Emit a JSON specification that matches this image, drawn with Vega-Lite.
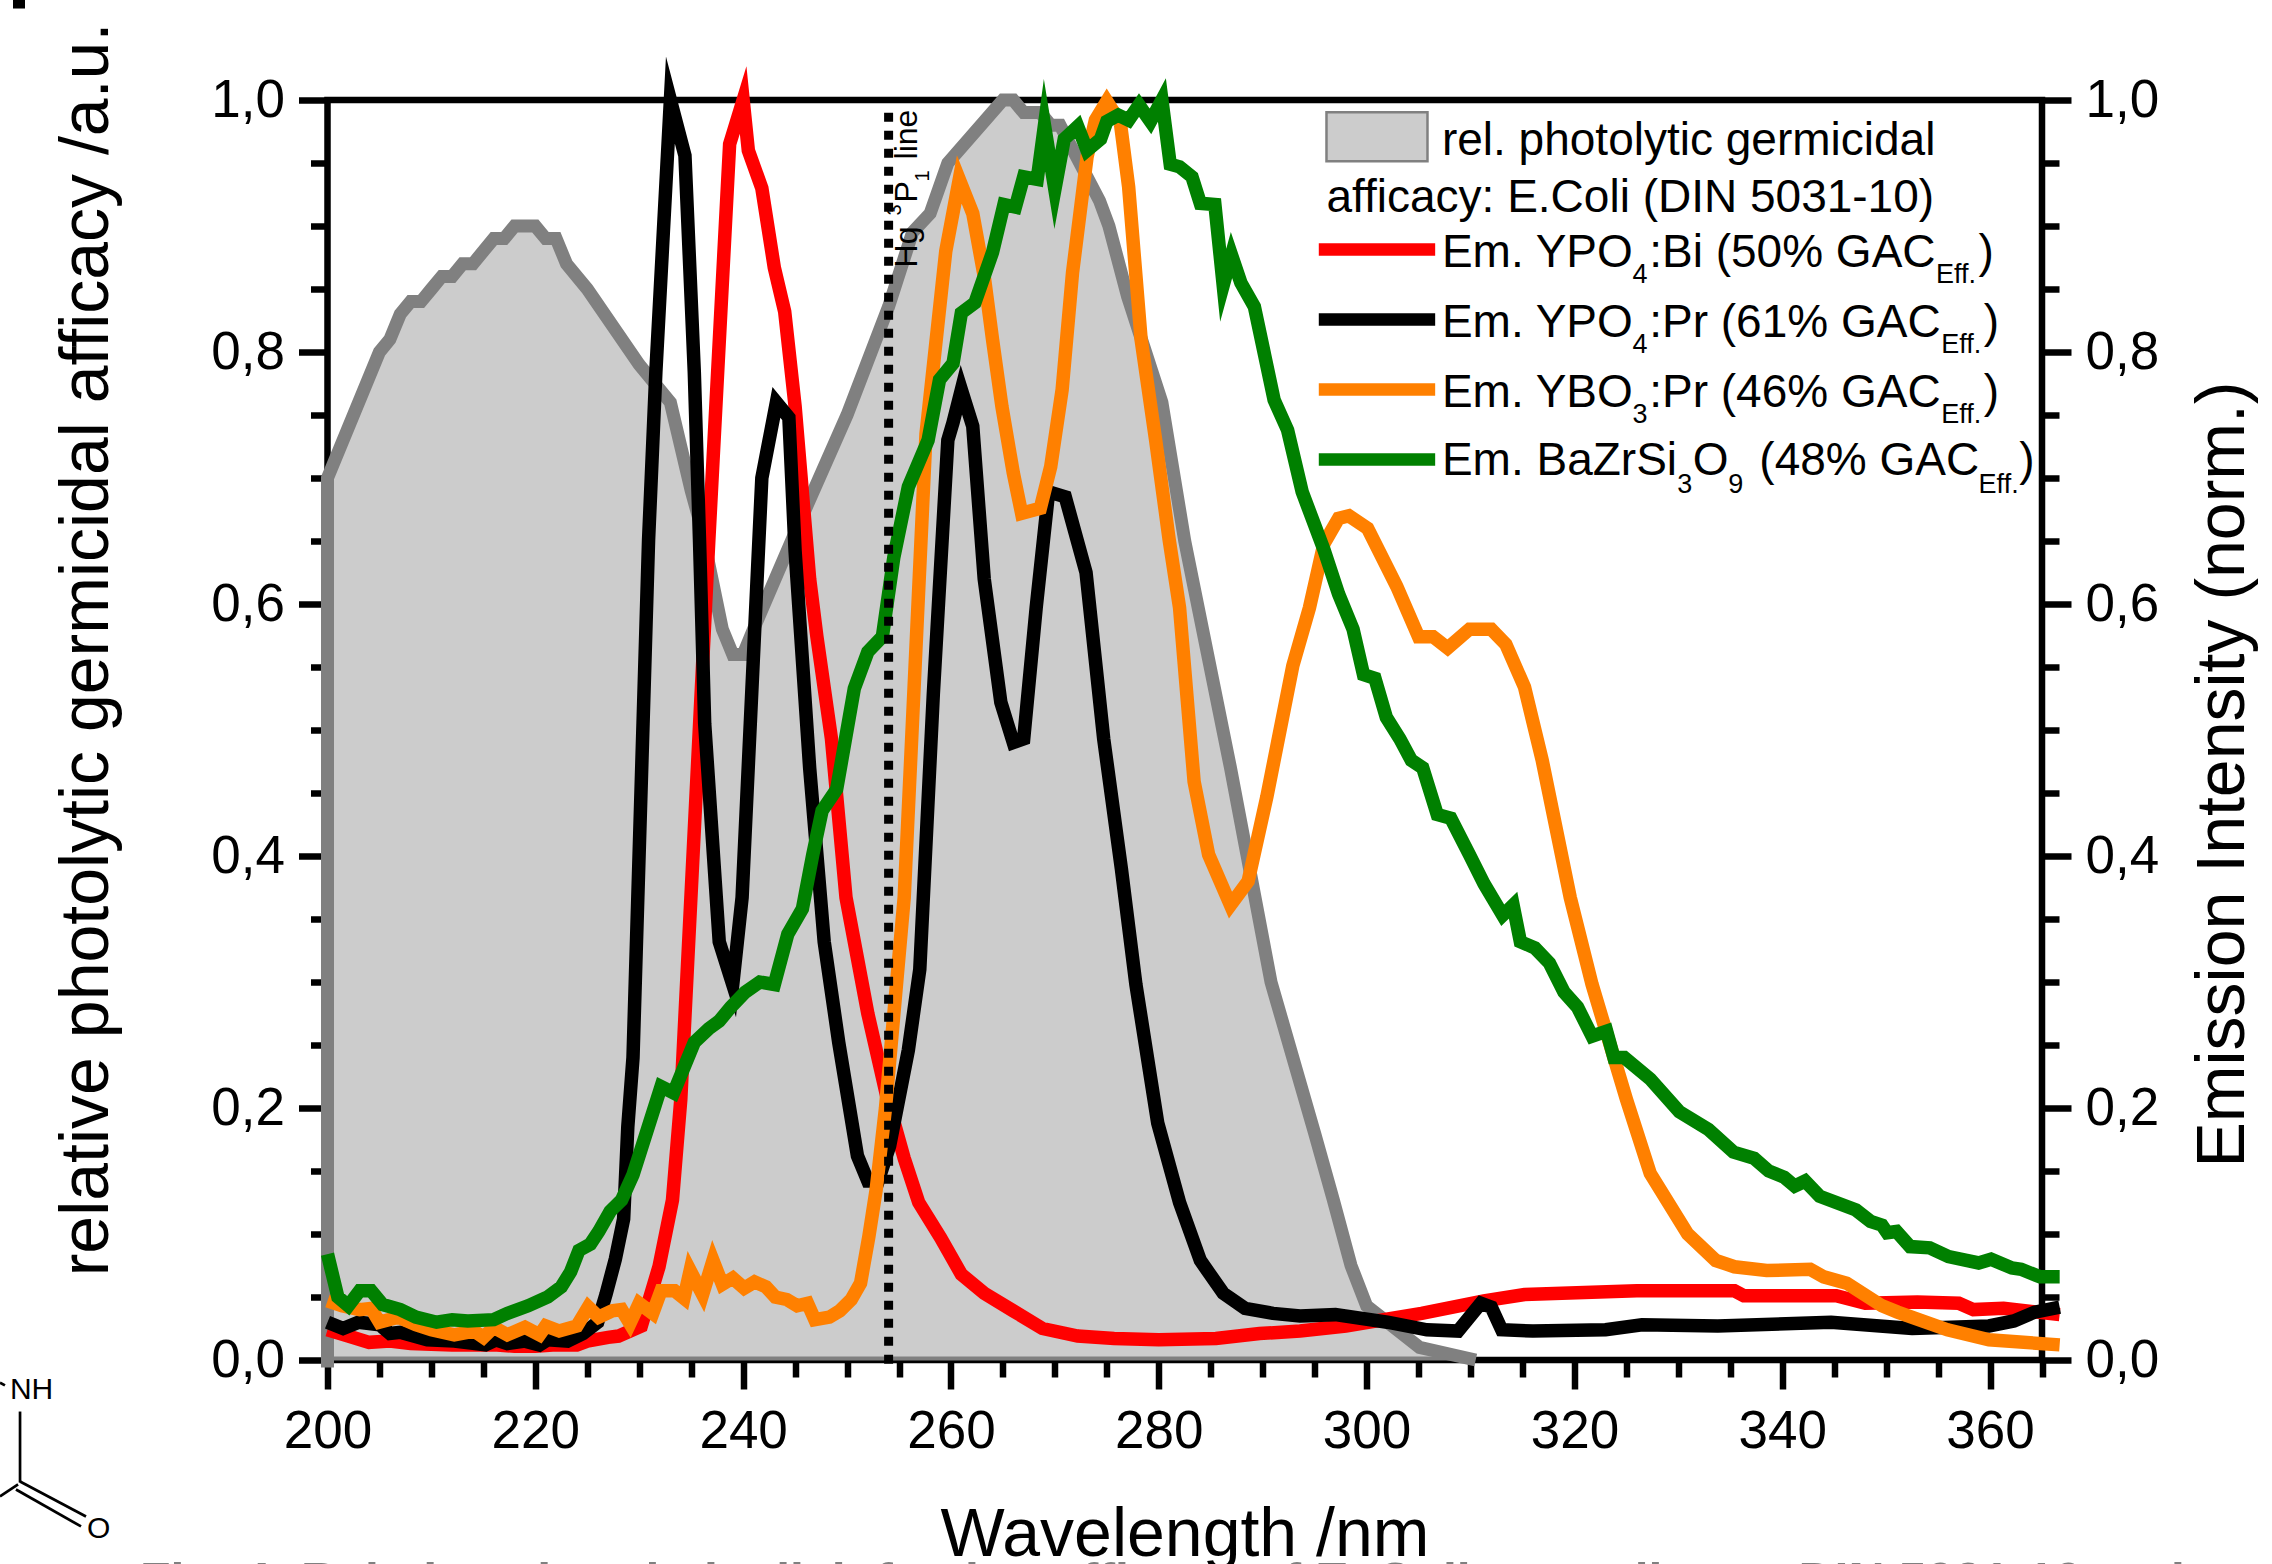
{"$schema":"https://vega.github.io/schema/vega-lite/v6.json","autosize":{"type":"none"},"padding":{"left":327.5,"top":100,"right":230,"bottom":204},"width":1714.5,"height":1260,"background":"white","view":{"stroke":"#000000","strokeWidth":6.5,"fill":null},
"config":{"font":"Liberation Sans","axis":{"grid":false,"domain":false,"labelFont":"Liberation Sans","titleFont":"Liberation Sans","labelColor":"#000","titleColor":"#000","tickColor":"#000","titleFontWeight":"normal","labelFontSize":53,"titleFontSize":68,"tickWidth":6.5}},
"datasets":{
"din":[{"nm":200,"v":-0.006},{"nm":200,"v":0.7},{"nm":205,"v":0.8},{"nm":206,"v":0.81},{"nm":207,"v":0.83},{"nm":208,"v":0.84},{"nm":209,"v":0.84},{"nm":210,"v":0.85},{"nm":211,"v":0.86},{"nm":212,"v":0.86},{"nm":213,"v":0.87},{"nm":214,"v":0.87},{"nm":215,"v":0.88},{"nm":216,"v":0.89},{"nm":217,"v":0.89},{"nm":218,"v":0.9},{"nm":220,"v":0.9},{"nm":221,"v":0.89},{"nm":222,"v":0.89},{"nm":223,"v":0.87},{"nm":225,"v":0.85},{"nm":230,"v":0.79},{"nm":233,"v":0.76},{"nm":235,"v":0.69},{"nm":236,"v":0.66},{"nm":237,"v":0.62},{"nm":238,"v":0.58},{"nm":239,"v":0.56},{"nm":240,"v":0.56},{"nm":241,"v":0.58},{"nm":244.7,"v":0.651},{"nm":250,"v":0.75},{"nm":254,"v":0.836},{"nm":256.3,"v":0.895},{"nm":258,"v":0.91},{"nm":259.7,"v":0.95},{"nm":265,"v":1.0},{"nm":266,"v":1.0},{"nm":267,"v":0.99},{"nm":268.6,"v":0.99},{"nm":269.6,"v":0.98},{"nm":270.5,"v":0.98},{"nm":274.3,"v":0.92},{"nm":275.2,"v":0.9},{"nm":277,"v":0.844},{"nm":280.3,"v":0.76},{"nm":282.5,"v":0.65},{"nm":286.9,"v":0.47},{"nm":290.8,"v":0.3},{"nm":295,"v":0.18},{"nm":296.8,"v":0.127},{"nm":298.5,"v":0.075},{"nm":300,"v":0.043},{"nm":305.1,"v":0.01},{"nm":310.5,"v":0.0}],
"spectra":[
{"nm":200,"s":"Bi","v":0.024},{"nm":202,"s":"Bi","v":0.019},{"nm":204,"s":"Bi","v":0.014},{"nm":206,"s":"Bi","v":0.015},{"nm":208,"s":"Bi","v":0.013},{"nm":212,"s":"Bi","v":0.012},{"nm":216,"s":"Bi","v":0.012},{"nm":218,"s":"Bi","v":0.011},{"nm":220,"s":"Bi","v":0.011},{"nm":222,"s":"Bi","v":0.012},{"nm":224,"s":"Bi","v":0.012},{"nm":225,"s":"Bi","v":0.015},{"nm":227,"s":"Bi","v":0.018},{"nm":228,"s":"Bi","v":0.019},{"nm":230.2,"s":"Bi","v":0.027},{"nm":231.9,"s":"Bi","v":0.074},{"nm":233.2,"s":"Bi","v":0.127},{"nm":234,"s":"Bi","v":0.207},{"nm":236.7,"s":"Bi","v":0.651},{"nm":238.7,"s":"Bi","v":0.965},{"nm":240,"s":"Bi","v":1.0},{"nm":240.5,"s":"Bi","v":0.96},{"nm":241.8,"s":"Bi","v":0.93},{"nm":243,"s":"Bi","v":0.867},{"nm":244,"s":"Bi","v":0.832},{"nm":245,"s":"Bi","v":0.757},{"nm":246.4,"s":"Bi","v":0.62},{"nm":247.1,"s":"Bi","v":0.574},{"nm":248.5,"s":"Bi","v":0.493},{"nm":249.9,"s":"Bi","v":0.367},{"nm":252,"s":"Bi","v":0.275},{"nm":253.8,"s":"Bi","v":0.21},{"nm":255.5,"s":"Bi","v":0.16},{"nm":256.9,"s":"Bi","v":0.125},{"nm":259,"s":"Bi","v":0.097},{"nm":261,"s":"Bi","v":0.068},{"nm":263.2,"s":"Bi","v":0.053},{"nm":266,"s":"Bi","v":0.039},{"nm":268.8,"s":"Bi","v":0.025},{"nm":272.2,"s":"Bi","v":0.019},{"nm":275.7,"s":"Bi","v":0.017},{"nm":280,"s":"Bi","v":0.016},{"nm":285.5,"s":"Bi","v":0.017},{"nm":289.7,"s":"Bi","v":0.021},{"nm":293.6,"s":"Bi","v":0.023},{"nm":298,"s":"Bi","v":0.027},{"nm":305.3,"s":"Bi","v":0.037},{"nm":311.3,"s":"Bi","v":0.047},{"nm":315.2,"s":"Bi","v":0.052},{"nm":326,"s":"Bi","v":0.055},{"nm":335.4,"s":"Bi","v":0.055},{"nm":336.3,"s":"Bi","v":0.051},{"nm":345.2,"s":"Bi","v":0.051},{"nm":348,"s":"Bi","v":0.045},{"nm":353,"s":"Bi","v":0.046},{"nm":357,"s":"Bi","v":0.045},{"nm":358.4,"s":"Bi","v":0.04},{"nm":361.3,"s":"Bi","v":0.041},{"nm":366.7,"s":"Bi","v":0.036},
{"nm":200,"s":"Pr","v":0.03},{"nm":201.5,"s":"Pr","v":0.025},{"nm":203,"s":"Pr","v":0.03},{"nm":205,"s":"Pr","v":0.028},{"nm":206,"s":"Pr","v":0.021},{"nm":207,"s":"Pr","v":0.022},{"nm":209.6,"s":"Pr","v":0.016},{"nm":212.2,"s":"Pr","v":0.015},{"nm":215.2,"s":"Pr","v":0.012},{"nm":216.2,"s":"Pr","v":0.016},{"nm":217.3,"s":"Pr","v":0.013},{"nm":219,"s":"Pr","v":0.015},{"nm":220.4,"s":"Pr","v":0.012},{"nm":221.2,"s":"Pr","v":0.016},{"nm":223.1,"s":"Pr","v":0.015},{"nm":224.6,"s":"Pr","v":0.021},{"nm":226,"s":"Pr","v":0.03},{"nm":226.8,"s":"Pr","v":0.052},{"nm":227.7,"s":"Pr","v":0.08},{"nm":228.5,"s":"Pr","v":0.112},{"nm":228.9,"s":"Pr","v":0.185},{"nm":229.4,"s":"Pr","v":0.24},{"nm":230.9,"s":"Pr","v":0.651},{"nm":231.6,"s":"Pr","v":0.784},{"nm":233,"s":"Pr","v":1.0},{"nm":234.4,"s":"Pr","v":0.956},{"nm":235.3,"s":"Pr","v":0.784},{"nm":235.8,"s":"Pr","v":0.651},{"nm":236.3,"s":"Pr","v":0.505},{"nm":237.7,"s":"Pr","v":0.332},{"nm":239,"s":"Pr","v":0.298},{"nm":239.9,"s":"Pr","v":0.367},{"nm":241.8,"s":"Pr","v":0.7},{"nm":243.2,"s":"Pr","v":0.76},{"nm":244.4,"s":"Pr","v":0.748},{"nm":245,"s":"Pr","v":0.642},{"nm":246.4,"s":"Pr","v":0.47},{"nm":247.8,"s":"Pr","v":0.332},{"nm":249.2,"s":"Pr","v":0.252},{"nm":251,"s":"Pr","v":0.162},{"nm":252,"s":"Pr","v":0.142},{"nm":253,"s":"Pr","v":0.142},{"nm":254.1,"s":"Pr","v":0.17},{"nm":255.9,"s":"Pr","v":0.246},{"nm":257,"s":"Pr","v":0.31},{"nm":258.3,"s":"Pr","v":0.528},{"nm":259.7,"s":"Pr","v":0.73},{"nm":260.2,"s":"Pr","v":0.744},{"nm":261,"s":"Pr","v":0.77},{"nm":262.1,"s":"Pr","v":0.741},{"nm":263.2,"s":"Pr","v":0.62},{"nm":264.8,"s":"Pr","v":0.522},{"nm":266,"s":"Pr","v":0.49},{"nm":267,"s":"Pr","v":0.493},{"nm":268.2,"s":"Pr","v":0.597},{"nm":269.4,"s":"Pr","v":0.689},{"nm":271,"s":"Pr","v":0.685},{"nm":273,"s":"Pr","v":0.625},{"nm":274.7,"s":"Pr","v":0.493},{"nm":276.4,"s":"Pr","v":0.39},{"nm":277.8,"s":"Pr","v":0.298},{"nm":279.9,"s":"Pr","v":0.188},{"nm":282,"s":"Pr","v":0.125},{"nm":284,"s":"Pr","v":0.079},{"nm":286.2,"s":"Pr","v":0.053},{"nm":288.3,"s":"Pr","v":0.041},{"nm":291,"s":"Pr","v":0.037},{"nm":293.6,"s":"Pr","v":0.035},{"nm":297,"s":"Pr","v":0.036},{"nm":302,"s":"Pr","v":0.03},{"nm":305.8,"s":"Pr","v":0.024},{"nm":308.8,"s":"Pr","v":0.023},{"nm":311,"s":"Pr","v":0.045},{"nm":312,"s":"Pr","v":0.042},{"nm":313,"s":"Pr","v":0.024},{"nm":316,"s":"Pr","v":0.023},{"nm":323,"s":"Pr","v":0.024},{"nm":326.5,"s":"Pr","v":0.028},{"nm":333.8,"s":"Pr","v":0.027},{"nm":344.7,"s":"Pr","v":0.03},{"nm":352.5,"s":"Pr","v":0.025},{"nm":359.9,"s":"Pr","v":0.027},{"nm":362.3,"s":"Pr","v":0.031},{"nm":364.3,"s":"Pr","v":0.038},{"nm":366.7,"s":"Pr","v":0.042},
{"nm":200,"s":"YBO","v":0.047},{"nm":201.4,"s":"YBO","v":0.043},{"nm":203.1,"s":"YBO","v":0.04},{"nm":204.2,"s":"YBO","v":0.041},{"nm":205,"s":"YBO","v":0.03},{"nm":206.8,"s":"YBO","v":0.034},{"nm":208.5,"s":"YBO","v":0.028},{"nm":210,"s":"YBO","v":0.024},{"nm":212.2,"s":"YBO","v":0.02},{"nm":214.1,"s":"YBO","v":0.023},{"nm":215,"s":"YBO","v":0.018},{"nm":216,"s":"YBO","v":0.026},{"nm":217.3,"s":"YBO","v":0.02},{"nm":219,"s":"YBO","v":0.026},{"nm":220.4,"s":"YBO","v":0.02},{"nm":221,"s":"YBO","v":0.027},{"nm":222.3,"s":"YBO","v":0.023},{"nm":224,"s":"YBO","v":0.027},{"nm":225.1,"s":"YBO","v":0.042},{"nm":226.1,"s":"YBO","v":0.034},{"nm":227.4,"s":"YBO","v":0.039},{"nm":228.3,"s":"YBO","v":0.04},{"nm":229.1,"s":"YBO","v":0.029},{"nm":230,"s":"YBO","v":0.045},{"nm":231.3,"s":"YBO","v":0.037},{"nm":232.1,"s":"YBO","v":0.055},{"nm":233.4,"s":"YBO","v":0.055},{"nm":234.3,"s":"YBO","v":0.049},{"nm":234.9,"s":"YBO","v":0.071},{"nm":236.1,"s":"YBO","v":0.052},{"nm":237.1,"s":"YBO","v":0.079},{"nm":238,"s":"YBO","v":0.06},{"nm":239,"s":"YBO","v":0.065},{"nm":240.1,"s":"YBO","v":0.057},{"nm":241.1,"s":"YBO","v":0.062},{"nm":242.2,"s":"YBO","v":0.058},{"nm":243.1,"s":"YBO","v":0.05},{"nm":244.2,"s":"YBO","v":0.048},{"nm":245.2,"s":"YBO","v":0.043},{"nm":246.2,"s":"YBO","v":0.045},{"nm":246.9,"s":"YBO","v":0.032},{"nm":248.3,"s":"YBO","v":0.034},{"nm":249.3,"s":"YBO","v":0.039},{"nm":250.4,"s":"YBO","v":0.048},{"nm":251.3,"s":"YBO","v":0.061},{"nm":252.1,"s":"YBO","v":0.098},{"nm":252.8,"s":"YBO","v":0.135},{"nm":253.7,"s":"YBO","v":0.2},{"nm":255.5,"s":"YBO","v":0.367},{"nm":257.6,"s":"YBO","v":0.735},{"nm":259.5,"s":"YBO","v":0.88},{"nm":260.8,"s":"YBO","v":0.937},{"nm":262.1,"s":"YBO","v":0.91},{"nm":263.2,"s":"YBO","v":0.86},{"nm":264,"s":"YBO","v":0.81},{"nm":264.9,"s":"YBO","v":0.757},{"nm":266,"s":"YBO","v":0.704},{"nm":266.8,"s":"YBO","v":0.672},{"nm":268.6,"s":"YBO","v":0.676},{"nm":269.6,"s":"YBO","v":0.709},{"nm":270.7,"s":"YBO","v":0.77},{"nm":271.7,"s":"YBO","v":0.863},{"nm":273.1,"s":"YBO","v":0.955},{"nm":273.9,"s":"YBO","v":0.984},{"nm":275,"s":"YBO","v":0.999},{"nm":276.3,"s":"YBO","v":0.982},{"nm":277.1,"s":"YBO","v":0.931},{"nm":278.3,"s":"YBO","v":0.81},{"nm":279.7,"s":"YBO","v":0.73},{"nm":281,"s":"YBO","v":0.651},{"nm":282,"s":"YBO","v":0.597},{"nm":283.4,"s":"YBO","v":0.459},{"nm":284.8,"s":"YBO","v":0.401},{"nm":286.9,"s":"YBO","v":0.361},{"nm":288.6,"s":"YBO","v":0.38},{"nm":290.4,"s":"YBO","v":0.447},{"nm":292.9,"s":"YBO","v":0.551},{"nm":294.5,"s":"YBO","v":0.597},{"nm":295.9,"s":"YBO","v":0.648},{"nm":297.3,"s":"YBO","v":0.668},{"nm":298.3,"s":"YBO","v":0.67},{"nm":300.1,"s":"YBO","v":0.66},{"nm":302.9,"s":"YBO","v":0.614},{"nm":305,"s":"YBO","v":0.574},{"nm":306.4,"s":"YBO","v":0.574},{"nm":307.8,"s":"YBO","v":0.565},{"nm":309.9,"s":"YBO","v":0.58},{"nm":312,"s":"YBO","v":0.58},{"nm":313.4,"s":"YBO","v":0.568},{"nm":315.2,"s":"YBO","v":0.534},{"nm":316.9,"s":"YBO","v":0.476},{"nm":319.6,"s":"YBO","v":0.367},{"nm":321.7,"s":"YBO","v":0.298},{"nm":325,"s":"YBO","v":0.207},{"nm":327.3,"s":"YBO","v":0.148},{"nm":330.9,"s":"YBO","v":0.1},{"nm":333.6,"s":"YBO","v":0.079},{"nm":335.4,"s":"YBO","v":0.074},{"nm":338.5,"s":"YBO","v":0.071},{"nm":342.7,"s":"YBO","v":0.072},{"nm":344,"s":"YBO","v":0.066},{"nm":346.2,"s":"YBO","v":0.061},{"nm":349.6,"s":"YBO","v":0.043},{"nm":351.1,"s":"YBO","v":0.038},{"nm":355.9,"s":"YBO","v":0.024},{"nm":359.9,"s":"YBO","v":0.016},{"nm":366.7,"s":"YBO","v":0.012},
{"nm":200,"s":"Zr","v":0.084},{"nm":201,"s":"Zr","v":0.05},{"nm":202,"s":"Zr","v":0.043},{"nm":203.1,"s":"Zr","v":0.055},{"nm":204.2,"s":"Zr","v":0.055},{"nm":205.3,"s":"Zr","v":0.044},{"nm":207,"s":"Zr","v":0.04},{"nm":208.5,"s":"Zr","v":0.034},{"nm":210.5,"s":"Zr","v":0.03},{"nm":212,"s":"Zr","v":0.032},{"nm":213.5,"s":"Zr","v":0.031},{"nm":216,"s":"Zr","v":0.032},{"nm":217.3,"s":"Zr","v":0.037},{"nm":219.3,"s":"Zr","v":0.043},{"nm":221.2,"s":"Zr","v":0.05},{"nm":222.5,"s":"Zr","v":0.058},{"nm":223.4,"s":"Zr","v":0.07},{"nm":224.2,"s":"Zr","v":0.087},{"nm":225.3,"s":"Zr","v":0.092},{"nm":226.1,"s":"Zr","v":0.102},{"nm":227.2,"s":"Zr","v":0.118},{"nm":228.3,"s":"Zr","v":0.127},{"nm":229.4,"s":"Zr","v":0.147},{"nm":232.1,"s":"Zr","v":0.217},{"nm":233.3,"s":"Zr","v":0.212},{"nm":235.3,"s":"Zr","v":0.252},{"nm":236.7,"s":"Zr","v":0.263},{"nm":237.7,"s":"Zr","v":0.269},{"nm":238.8,"s":"Zr","v":0.28},{"nm":240.2,"s":"Zr","v":0.292},{"nm":241.6,"s":"Zr","v":0.3},{"nm":243,"s":"Zr","v":0.298},{"nm":244.3,"s":"Zr","v":0.338},{"nm":245.7,"s":"Zr","v":0.358},{"nm":246.7,"s":"Zr","v":0.401},{"nm":247.6,"s":"Zr","v":0.436},{"nm":249,"s":"Zr","v":0.453},{"nm":250.7,"s":"Zr","v":0.533},{"nm":252,"s":"Zr","v":0.562},{"nm":253.4,"s":"Zr","v":0.574},{"nm":254.5,"s":"Zr","v":0.637},{"nm":255.9,"s":"Zr","v":0.693},{"nm":257.8,"s":"Zr","v":0.73},{"nm":258.9,"s":"Zr","v":0.778},{"nm":260.2,"s":"Zr","v":0.791},{"nm":261,"s":"Zr","v":0.831},{"nm":262.3,"s":"Zr","v":0.839},{"nm":264,"s":"Zr","v":0.879},{"nm":265.1,"s":"Zr","v":0.917},{"nm":266.2,"s":"Zr","v":0.915},{"nm":267,"s":"Zr","v":0.939},{"nm":268.3,"s":"Zr","v":0.937},{"nm":269,"s":"Zr","v":0.98},{"nm":270,"s":"Zr","v":0.929},{"nm":270.9,"s":"Zr","v":0.969},{"nm":272.2,"s":"Zr","v":0.979},{"nm":273.1,"s":"Zr","v":0.96},{"nm":274.4,"s":"Zr","v":0.969},{"nm":275,"s":"Zr","v":0.983},{"nm":276.1,"s":"Zr","v":0.988},{"nm":277.1,"s":"Zr","v":0.984},{"nm":278.1,"s":"Zr","v":0.996},{"nm":279.2,"s":"Zr","v":0.983},{"nm":280.3,"s":"Zr","v":1.0},{"nm":281.1,"s":"Zr","v":0.949},{"nm":282,"s":"Zr","v":0.947},{"nm":283.2,"s":"Zr","v":0.939},{"nm":284,"s":"Zr","v":0.918},{"nm":285.4,"s":"Zr","v":0.917},{"nm":286.2,"s":"Zr","v":0.853},{"nm":287,"s":"Zr","v":0.877},{"nm":287.9,"s":"Zr","v":0.855},{"nm":289.2,"s":"Zr","v":0.836},{"nm":291.1,"s":"Zr","v":0.762},{"nm":292.4,"s":"Zr","v":0.738},{"nm":293.8,"s":"Zr","v":0.689},{"nm":295.9,"s":"Zr","v":0.643},{"nm":297.3,"s":"Zr","v":0.608},{"nm":298.7,"s":"Zr","v":0.58},{"nm":299.7,"s":"Zr","v":0.544},{"nm":300.8,"s":"Zr","v":0.541},{"nm":301.9,"s":"Zr","v":0.51},{"nm":303.2,"s":"Zr","v":0.493},{"nm":304.3,"s":"Zr","v":0.476},{"nm":305.4,"s":"Zr","v":0.47},{"nm":306.8,"s":"Zr","v":0.433},{"nm":308.1,"s":"Zr","v":0.43},{"nm":309.9,"s":"Zr","v":0.401},{"nm":311.3,"s":"Zr","v":0.378},{"nm":313.1,"s":"Zr","v":0.353},{"nm":314.1,"s":"Zr","v":0.361},{"nm":314.8,"s":"Zr","v":0.332},{"nm":316.2,"s":"Zr","v":0.327},{"nm":317.6,"s":"Zr","v":0.315},{"nm":319,"s":"Zr","v":0.292},{"nm":320.3,"s":"Zr","v":0.28},{"nm":321.7,"s":"Zr","v":0.257},{"nm":323.1,"s":"Zr","v":0.261},{"nm":323.8,"s":"Zr","v":0.24},{"nm":324.8,"s":"Zr","v":0.24},{"nm":327.3,"s":"Zr","v":0.223},{"nm":330.1,"s":"Zr","v":0.197},{"nm":332.9,"s":"Zr","v":0.183},{"nm":335.3,"s":"Zr","v":0.165},{"nm":337.3,"s":"Zr","v":0.16},{"nm":338.7,"s":"Zr","v":0.15},{"nm":340.2,"s":"Zr","v":0.145},{"nm":341.2,"s":"Zr","v":0.138},{"nm":342.2,"s":"Zr","v":0.142},{"nm":343.6,"s":"Zr","v":0.13},{"nm":347.1,"s":"Zr","v":0.119},{"nm":348.5,"s":"Zr","v":0.11},{"nm":349.6,"s":"Zr","v":0.107},{"nm":350.1,"s":"Zr","v":0.101},{"nm":351,"s":"Zr","v":0.102},{"nm":352.3,"s":"Zr","v":0.09},{"nm":354.2,"s":"Zr","v":0.089},{"nm":356,"s":"Zr","v":0.082},{"nm":358.9,"s":"Zr","v":0.077},{"nm":360.1,"s":"Zr","v":0.08},{"nm":362.1,"s":"Zr","v":0.073},{"nm":363,"s":"Zr","v":0.072},{"nm":364.8,"s":"Zr","v":0.066},{"nm":366.7,"s":"Zr","v":0.066}],
"keys":[{"s":"Bi","a":295.4,"b":306.6,"v":0.8813},{"s":"Pr","a":295.4,"b":306.6,"v":0.8258},{"s":"YBO","a":295.4,"b":306.6,"v":0.7702},{"s":"Zr","a":295.4,"b":306.6,"v":0.7147}],
"main":[{"nm":307.25,"v":0.9567,"t":"rel. photolytic germicidal"},{"nm":296.14,"v":0.9115,"t":"afficacy: E.Coli (DIN 5031-10)"},{"nm":307.25,"v":0.8678,"t":"Em. YPO"},{"nm":327.2,"v":0.8678,"t":":Bi (50% GAC"},{"nm":358.9,"v":0.8678,"t":")"},{"nm":307.25,"v":0.8123,"t":"Em. YPO"},{"nm":327.2,"v":0.8123,"t":":Pr (61% GAC"},{"nm":359.4,"v":0.8123,"t":")"},{"nm":307.25,"v":0.7567,"t":"Em. YBO"},{"nm":327.2,"v":0.7567,"t":":Pr (46% GAC"},{"nm":359.4,"v":0.7567,"t":")"},{"nm":307.25,"v":0.702,"t":"Em. BaZrSi"},{"nm":331.4,"v":0.702,"t":"O"},{"nm":337.8,"v":0.702,"t":"(48% GAC"},{"nm":362.8,"v":0.702,"t":")"}],
"subs":[{"nm":325.6,"v":0.8546,"t":"4"},{"nm":354.8,"v":0.8546,"t":"Eff."},{"nm":325.6,"v":0.799,"t":"4"},{"nm":355.3,"v":0.799,"t":"Eff."},{"nm":325.6,"v":0.7435,"t":"3"},{"nm":355.3,"v":0.7435,"t":"Eff."},{"nm":329.9,"v":0.6879,"t":"3"},{"nm":334.8,"v":0.6879,"t":"9"},{"nm":358.9,"v":0.6879,"t":"Eff."}],
"hg":[{"nm":256.73,"v":0.8671,"t":"Hg"},{"nm":256.73,"v":0.9186,"t":"P"},{"nm":256.73,"v":0.9528,"t":"line"}],
"hgs":[{"nm":255.2,"v":0.9083,"t":"3"},{"nm":257.89,"v":0.9353,"t":"1"}],
"mol":[{"a":170.41,"b":170.41,"v":-0.0409,"w":-0.0972},{"a":170.41,"b":176.76,"v":-0.0964,"w":-0.1242},{"a":170.02,"b":176.28,"v":-0.1028,"w":-0.1321},{"a":168.48,"b":170.22,"v":-0.1083,"w":-0.0988},{"a":168.48,"b":168.96,"v":-0.0179,"w":-0.0202}],
"molt":[{"nm":169.44,"v":-0.0313,"t":"NH"},{"nm":176.86,"v":-0.1409,"t":"O"}]},
"resolve":{"scale":{"y":"independent"}},
"layer":[
{"data":{"name":"din"},"mark":{"type":"area","fill":"#cccccc","stroke":null},"encoding":{"x":{"field":"nm","type":"quantitative","scale":{"domain":[200,365],"nice":false,"zero":false},"title":"Wavelength /nm","axis":{"values":[200,205,210,215,220,225,230,235,240,245,250,255,260,265,270,275,280,285,290,295,300,305,310,315,320,325,330,335,340,345,350,355,360,365],"tickSize":{"condition":{"test":"datum.value % 20 === 0","value":29},"value":17},"labelExpr":"datum.value % 20 === 0 ? datum.label : ''","labelPadding":16,"labelOverlap":false,"labelFlush":false,"titleX":857,"titleY":195,"titleBaseline":"alphabetic","titleAnchor":null}},"y":{"field":"v","type":"quantitative","scale":{"domain":[0,1],"nice":false,"zero":false},"title":"relative photolytic germicidal afficacy /a.u.","axis":{"orient":"left","values":[0,0.05,0.1,0.15,0.2,0.25,0.3,0.35,0.4,0.45,0.5,0.55,0.6,0.65,0.7,0.75,0.8,0.85,0.9,0.95,1],"tickSize":{"condition":{"test":"round(datum.value*100) % 20 === 0","value":29},"value":17},"labelExpr":"round(datum.value*100) % 20 === 0 ? replace(format(datum.value,'.1f'),'.',',') : ''","labelPadding":14,"labelOverlap":false,"labelFlush":false,"titleX":-220.5,"titleY":549,"titleAngle":-90,"titleBaseline":"alphabetic"}}}},
{"data":{"name":"din"},"mark":{"type":"line","stroke":"#808080","strokeWidth":13,"strokeJoin":"miter","strokeMiterLimit":10,"strokeCap":"butt"},"encoding":{"x":{"field":"nm","type":"quantitative"},"y":{"field":"v","type":"quantitative","scale":{"domain":[0,1],"nice":false,"zero":false},"axis":null},"order":{"field":"__none"}}},
{"data":{"values":[{"a":200,"b":310,"v":0.0012}]},"mark":{"type":"rule","stroke":"#808080","strokeWidth":4},"encoding":{"x":{"field":"a","type":"quantitative"},"x2":{"field":"b"},"y":{"field":"v","type":"quantitative","scale":{"domain":[0,1],"nice":false,"zero":false},"axis":null}}},
{"data":{"name":"spectra"},"mark":{"type":"line","strokeWidth":13.5,"strokeJoin":"miter","strokeMiterLimit":12,"strokeCap":"butt"},"encoding":{"x":{"field":"nm","type":"quantitative"},"y":{"field":"v","type":"quantitative","scale":{"domain":[0,1],"nice":false,"zero":false},"title":"Emission Intensity (norm.)","axis":{"orient":"right","values":[0,0.05,0.1,0.15,0.2,0.25,0.3,0.35,0.4,0.45,0.5,0.55,0.6,0.65,0.7,0.75,0.8,0.85,0.9,0.95,1],"tickSize":{"condition":{"test":"round(datum.value*100) % 20 === 0","value":29},"value":17},"labelExpr":"round(datum.value*100) % 20 === 0 ? replace(format(datum.value,'.1f'),'.',',') : ''","labelPadding":14,"labelOverlap":false,"labelFlush":false,"titleX":201,"titleY":674,"titleAngle":-90,"titleBaseline":"alphabetic"}},"color":{"field":"s","type":"nominal","legend":null,"scale":{"domain":["Bi","Pr","YBO","Zr"],"range":["#ff0000","#000000","#ff8000","#008000"]}},"order":{"field":"__none"}}},
{"data":{"values":[{"nm":254,"v":-0.003,"w":0.994}]},"mark":{"type":"rule","stroke":"#000000","strokeWidth":9,"strokeDash":[9,9]},"encoding":{"x":{"field":"nm","type":"quantitative"},"y":{"field":"v","type":"quantitative","scale":{"domain":[0,1],"nice":false,"zero":false},"axis":null},"y2":{"field":"w"}}},
{"data":{"values":[{"a":296.14,"b":305.86,"v":0.9903,"w":0.9514}]},"mark":{"type":"rect","fill":"#cccccc","stroke":"#808080","strokeWidth":2.5},"encoding":{"x":{"field":"a","type":"quantitative"},"x2":{"field":"b"},"y":{"field":"v","type":"quantitative","scale":{"domain":[0,1],"nice":false,"zero":false},"axis":null},"y2":{"field":"w"}}},
{"data":{"name":"keys"},"mark":{"type":"rule","strokeWidth":12.5},"encoding":{"x":{"field":"a","type":"quantitative"},"x2":{"field":"b"},"y":{"field":"v","type":"quantitative","scale":{"domain":[0,1],"nice":false,"zero":false},"axis":null},"color":{"field":"s","type":"nominal","legend":null}}},
{"data":{"name":"main"},"mark":{"type":"text","fontSize":46,"align":"left","baseline":"alphabetic","font":"Liberation Sans"},"encoding":{"x":{"field":"nm","type":"quantitative"},"y":{"field":"v","type":"quantitative","scale":{"domain":[0,1],"nice":false,"zero":false},"axis":null},"text":{"field":"t"}}},
{"data":{"name":"subs"},"mark":{"type":"text","fontSize":27,"align":"left","baseline":"alphabetic","font":"Liberation Sans"},"encoding":{"x":{"field":"nm","type":"quantitative"},"y":{"field":"v","type":"quantitative","scale":{"domain":[0,1],"nice":false,"zero":false},"axis":null},"text":{"field":"t"}}},
{"data":{"name":"hg"},"mark":{"type":"text","fontSize":32,"angle":270,"align":"left","baseline":"alphabetic","font":"Liberation Sans"},"encoding":{"x":{"field":"nm","type":"quantitative"},"y":{"field":"v","type":"quantitative","scale":{"domain":[0,1],"nice":false,"zero":false},"axis":null},"text":{"field":"t"}}},
{"data":{"name":"hgs"},"mark":{"type":"text","fontSize":20,"angle":270,"align":"left","baseline":"alphabetic","font":"Liberation Sans"},"encoding":{"x":{"field":"nm","type":"quantitative"},"y":{"field":"v","type":"quantitative","scale":{"domain":[0,1],"nice":false,"zero":false},"axis":null},"text":{"field":"t"}}},
{"data":{"name":"mol"},"mark":{"type":"rule","stroke":"#000000","strokeWidth":2.7},"encoding":{"x":{"field":"a","type":"quantitative"},"x2":{"field":"b"},"y":{"field":"v","type":"quantitative","scale":{"domain":[0,1],"nice":false,"zero":false},"axis":null},"y2":{"field":"w"}}},
{"data":{"name":"molt"},"mark":{"type":"text","fontSize":30,"align":"left","baseline":"alphabetic","font":"Liberation Sans"},"encoding":{"x":{"field":"nm","type":"quantitative"},"y":{"field":"v","type":"quantitative","scale":{"domain":[0,1],"nice":false,"zero":false},"axis":null},"text":{"field":"t"}}},
{"data":{"values":[{"nm":181.95,"v":-0.1885,"t":"Fig. 4: Relative photolytic disinfection afficacy of E. Coli according to DIN 5031-10 and"}]},"mark":{"type":"text","fontSize":50,"fontWeight":"bold","fill":"#808080","align":"left","baseline":"alphabetic","font":"Liberation Sans"},"encoding":{"x":{"field":"nm","type":"quantitative"},"y":{"field":"v","type":"quantitative","scale":{"domain":[0,1],"nice":false,"zero":false},"axis":null},"text":{"field":"t"}}},
{"data":{"values":[{"a":170.31,"v":1.0798,"w":1.0726}]},"mark":{"type":"rule","stroke":"#000000","strokeWidth":12},"encoding":{"x":{"field":"a","type":"quantitative"},"y":{"field":"v","type":"quantitative","scale":{"domain":[0,1],"nice":false,"zero":false},"axis":null},"y2":{"field":"w"}}}
]}
